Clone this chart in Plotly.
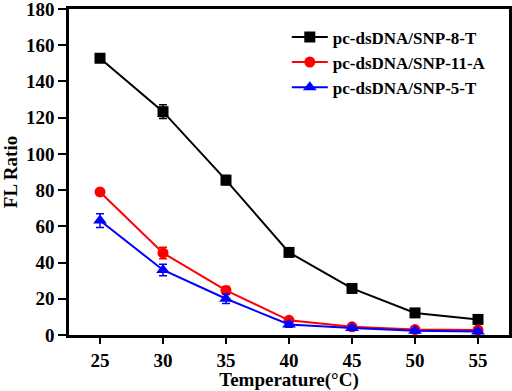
import plotly.graph_objects as go

temperature = [25, 30, 35, 40, 45, 50, 55]
snp_8_t = [152.8, 123.3, 85.5, 45.6, 25.7, 12.2, 8.6]
snp_8_t_err = [1.8, 3.8, 2.5, 1.5, 1.5, 1.0, 1.0]
snp_11_a = [79.0, 45.3, 24.6, 8.1, 4.5, 3.0, 2.8]
snp_11_a_err = [1.2, 3.2, 2.2, 1.0, 1.0, 0.8, 0.8]
snp_5_t = [63.2, 35.9, 20.0, 5.8, 3.9, 2.4, 2.0]
snp_5_t_err = [3.8, 3.2, 2.6, 1.5, 1.2, 1.0, 1.0]
y_ticks = [0, 20, 40, 60, 80, 100, 120, 140, 160, 180]

series = [
    ("pc-dsDNA/SNP-8-T", snp_8_t, snp_8_t_err, "#000000", "square", 11),
    ("pc-dsDNA/SNP-11-A", snp_11_a, snp_11_a_err, "#ff0000", "circle", 11),
    ("pc-dsDNA/SNP-5-T", snp_5_t, snp_5_t_err, "#0000ff", "triangle-up", 12),
]

font_family = "Liberation Serif, Times New Roman, serif"
bold_font = dict(family=font_family, size=19, color="black", weight="bold")

fig = go.Figure()
for name, ys, errs, color, symbol, size in series:
    fig.add_trace(go.Scatter(
        x=temperature, y=ys, name=name, mode="lines+markers",
        line=dict(color=color, width=2),
        marker=dict(symbol=symbol, size=size, color=color),
        error_y=dict(type="data", array=errs, visible=True, color=color,
                     thickness=1.5, width=4),
        cliponaxis=False,
    ))

fig.update_layout(
    width=512, height=391,
    margin=dict(l=69, r=3, t=9, b=56, autoexpand=False),
    paper_bgcolor="white", plot_bgcolor="white",
    font=dict(family=font_family, size=19, color="black"),
    showlegend=True,
    legend=dict(x=0.495, y=0.968, xanchor="left", yanchor="top",
                bgcolor="rgba(0,0,0,0)", tracegroupgap=0, itemwidth=36,
                font=dict(family=font_family, size=17, color="black",
                          weight="bold")),
)
fig.update_xaxes(
    range=[22.54, 57.46], tickvals=temperature, ticks="outside", ticklen=6,
    tickwidth=2, tickcolor="black", showline=True, linewidth=2.5,
    linecolor="black", mirror=True, showgrid=False, zeroline=False,
    automargin=False, ticklabeloverflow="allow",
    tickfont=bold_font,
    title=dict(text="Temperature(°C)", standoff=4, font=bold_font),
)
fig.update_yaxes(
    range=[0, 180], tickvals=y_ticks,
    ticks="outside", ticklen=8, tickwidth=2,
    tickcolor="black", showline=True, linewidth=2.5, linecolor="black",
    mirror=True, showgrid=False, zeroline=False, automargin=False,
    ticklabeloverflow="allow",
    tickfont=bold_font,
    title=dict(text="FL Ratio", standoff=4, font=bold_font),
)

fig.write_html(
    "out.html",
    config={"displayModeBar": False},
    post_script="document.body.style.margin='0';document.body.style.overflow='hidden';",
)
